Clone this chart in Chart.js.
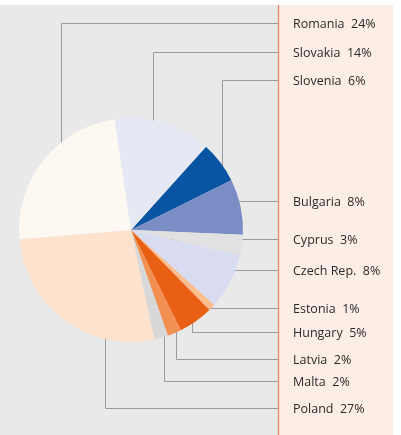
<!DOCTYPE html>
<html>
<head>
<meta charset="utf-8">
<script src="https://cdn.jsdelivr.net/npm/chart.js@4"></script>
<style>
  html, body { margin: 0; padding: 0; background: #fff; }
  #chart { display: block; }
</style>
</head>
<body>
<canvas id="chart" width="401" height="435"></canvas>
<script>
// Data (shares in %, clockwise from Slovenia)
const countries = ['Slovenia', 'Bulgaria', 'Cyprus', 'Czech Rep.', 'Estonia', 'Hungary', 'Latvia', 'Malta', 'Poland', 'Romania', 'Slovakia'];
const shares = [6, 8, 3, 8, 1, 5, 2, 2, 27, 24, 14];
const sliceColors = ['#0a55a3', '#7a8dc5', '#e1e1e1', '#d9dcf0', '#fbbd8c', '#e95f14', '#f29052', '#d8d8d8', '#fde2cd', '#fdf8f1', '#e6e9f4'];

// Label layout: y of the label row, x of the vertical elbow (null = straight horizontal)
const leaderLayout = {
    'Romania':    { y: 23,  x: 61 },
    'Slovakia':   { y: 52,  x: 153 },
    'Slovenia':   { y: 80,  x: 222 },
    'Bulgaria':   { y: 201, x: null },
    'Cyprus':     { y: 239, x: null },
    'Czech Rep.': { y: 270, x: null },
    'Estonia':    { y: 308, x: null },
    'Hungary':    { y: 332, x: 192 },
    'Latvia':     { y: 359, x: 176 },
    'Malta':      { y: 381, x: 164 },
    'Poland':     { y: 408, x: 105 }
};

const panelX = 278;
const panelRight = 393;

// Backgrounds + panel
const backgroundPlugin = {
    id: 'backgrounds',
    beforeDraw(chart) {
        const ctx = chart.ctx;
        const w = chart.width, h = chart.height;
        ctx.save();
        ctx.fillStyle = '#ffffff';
        ctx.fillRect(0, 0, w, h);
        ctx.fillStyle = '#e9e9e9';
        ctx.fillRect(0, 5, panelX, h - 5);
        ctx.fillStyle = '#fdeee5';
        ctx.fillRect(panelX, 5, panelRight - panelX, h - 5);
        ctx.restore();
    }
};

// Leader lines (under the pie) and labels
const leaderPlugin = {
    id: 'leaders',
    beforeDatasetsDraw(chart) {
        const ctx = chart.ctx;
        const arcs = chart.getDatasetMeta(0).data;
        const cx = arcs[0].x, cy = arcs[0].y;
        ctx.save();
        ctx.strokeStyle = '#9a9a9a';
        ctx.lineWidth = 1;
        countries.forEach(name => {
            const l = leaderLayout[name];
            const y = Math.round(l.y) + 0.5;
            ctx.beginPath();
            if (l.x === null) {
                ctx.moveTo(cx, y);
                ctx.lineTo(panelX, y);
            } else {
                const x = Math.round(l.x) + 0.5;
                ctx.moveTo(x, cy);
                ctx.lineTo(x, y);
                ctx.lineTo(panelX, y);
            }
            ctx.stroke();
        });
        ctx.restore();
    },
    afterDatasetsDraw(chart) {
        const ctx = chart.ctx;
        ctx.save();
        // panel edge line
        ctx.strokeStyle = '#e88a64';
        ctx.lineWidth = 1.3;
        ctx.beginPath();
        ctx.moveTo(panelX + 0.5, 5);
        ctx.lineTo(panelX + 0.5, chart.height);
        ctx.stroke();

        ctx.fillStyle = '#2a2a2a';
        ctx.font = '12.5px "Open Sans", sans-serif';
        ctx.textBaseline = 'middle';
        ctx.textAlign = 'left';
        countries.forEach((name, i) => {
            const l = leaderLayout[name];
            ctx.fillText(name + '  ' + shares[i] + '%', 293, l.y + 1);
        });
        ctx.restore();
    }
};

const ctx = document.getElementById('chart').getContext('2d');
new Chart(ctx, {
    type: 'pie',
    data: {
        labels: countries,
        datasets: [{
            data: shares,
            backgroundColor: sliceColors,
            borderWidth: 0
        }]
    },
    options: {
        responsive: false,
        animation: false,
        rotation: 42,
        layout: { padding: { left: 19, right: 158, top: 118, bottom: 93 } },
        plugins: {
            legend: { display: false },
            tooltip: { enabled: false }
        }
    },
    plugins: [backgroundPlugin, leaderPlugin]
});
</script>
</body>
</html>
